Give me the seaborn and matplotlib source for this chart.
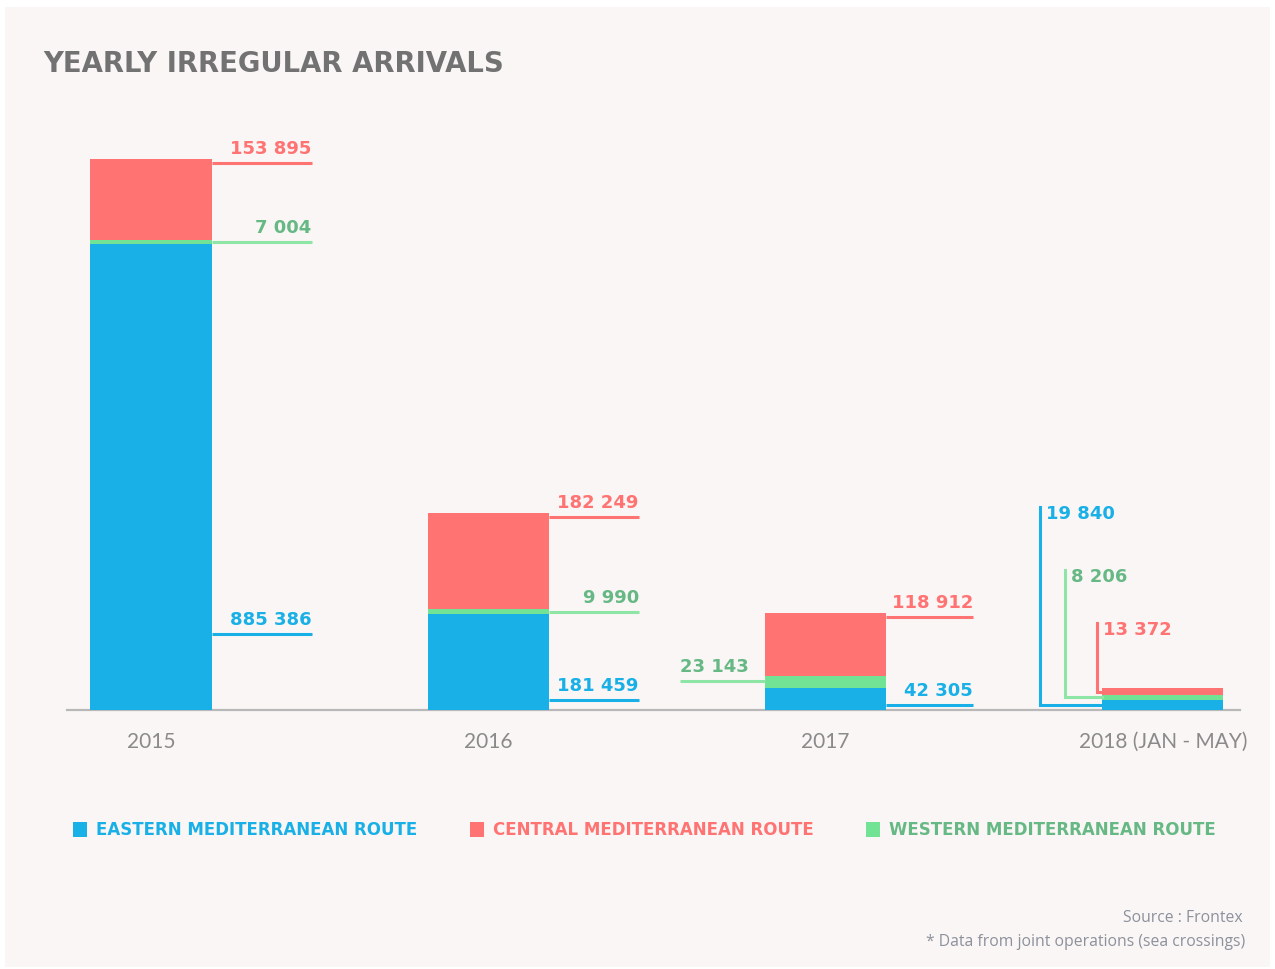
import matplotlib
matplotlib.use("Agg")
import matplotlib.pyplot as plt
import seaborn as sns
import pandas as pd
import numpy as np
from matplotlib.patches import Rectangle

# ---------------- data ----------------
years = ["2015", "2016", "2017", "2018"]
year_labels = ["2015", "2016", "2017", "2018 (JAN - MAY)"]
eastern = [885386, 181459, 42305, 19840]
western = [7004, 9990, 23143, 8206]
central = [153895, 182249, 118912, 13372]
routes = ["EASTERN MEDITERRANEAN ROUTE", "CENTRAL MEDITERRANEAN ROUTE", "WESTERN MEDITERRANEAN ROUTE"]

# ---------------- style ----------------
BLUE = "#18b0e6"
RED = "#ff7373"
GREEN = "#72e394"
GREEN_TXT = "#66b884"
GREEN_LINE = "#8de6a6"
BG = "#faf6f5"
NUMFONT = "DejaVu Sans"

W, H = 1275, 969
fig = plt.figure(figsize=(W / 100, H / 100), dpi=100)
fig.patch.set_facecolor("white")
fig.patches.append(Rectangle((5 / W, 1 - 967 / H), (1270 - 5) / W, (967 - 7) / H,
                             transform=fig.transFigure, facecolor=BG, edgecolor="none", zorder=-10))

# axes geometry (pixels)
x_left, x_right, y_base, y_top = 67, 1240, 710, 100
ax = fig.add_axes([x_left / W, 1 - y_base / H, (x_right - x_left) / W, (y_base - y_top) / H])
ax.set_facecolor("none")

df = pd.DataFrame({"year": years, "eastern": eastern, "western": western, "central": central})
df["ew"] = df["eastern"] + df["western"]
df["total"] = df["ew"] + df["central"]

BW = 0.359
sns.barplot(data=df, x="year", y="total", color=RED, width=BW, saturation=1, linewidth=0, ax=ax, zorder=2)
sns.barplot(data=df, x="year", y="ew", color=GREEN, width=BW, saturation=1, linewidth=0, ax=ax, zorder=3)
sns.barplot(data=df, x="year", y="eastern", color=BLUE, width=BW, saturation=1, linewidth=0, ax=ax, zorder=4)

SPACING = 337.3          # px between bar centres
UNITS_PER_PX = 1899.0    # value units per vertical pixel
x0c = 151
ax.set_xlim(-(x0c - x_left) / SPACING, (x_right - x0c) / SPACING)
ax.set_ylim(0, (y_base - y_top) * UNITS_PER_PX)

for s in ["top", "right", "left"]:
    ax.spines[s].set_visible(False)
ax.spines["bottom"].set_color("#b8b8b8")
ax.spines["bottom"].set_linewidth(1.6)
ax.set_yticks([])
ax.set_xticks(range(4))
ax.set_xticklabels(year_labels, fontsize=15, color="#8a8a8a", family="Lato")
ax.tick_params(axis="x", length=0, pad=15.5)
ax.set_xlabel("")
ax.set_ylabel("")

def px(v):  # pixel offset -> value units
    return v * UNITS_PER_PX

def xp(v):  # pixel offset -> x units
    return v / SPACING

def fmt(n):
    return f"{n:,}".replace(",", " ")

LW = 2.2
TXT_OFF = px(5)

def right_label(i, yv, ext, value, col, lcol):
    x1 = i + BW / 2
    x2 = x1 + ext
    ax.plot([x1, x2], [yv, yv], color=lcol, lw=LW, solid_capstyle="butt", zorder=5)
    ax.text(x2, yv + TXT_OFF, fmt(value), ha="right", va="bottom", color=col,
            fontsize=13, fontweight="bold", family=NUMFONT, zorder=6)

def left_label(i, yv, ext, value, col, lcol):
    x1 = i - BW / 2
    x2 = x1 - ext
    ax.plot([x2, x1], [yv, yv], color=lcol, lw=LW, solid_capstyle="butt", zorder=5)
    ax.text(x2, yv + TXT_OFF, fmt(value), ha="left", va="bottom", color=col,
            fontsize=13, fontweight="bold", family=NUMFONT, zorder=6)

exts = [xp(100), xp(90), xp(87)]
blue_offsets = [76, 10, 5]
for i in range(3):
    r = df.iloc[i]
    right_label(i, r["total"] - px(4), exts[i], r["central"], RED, RED)
    gy = r["eastern"] + r["western"] / 2
    if i < 2:
        right_label(i, gy, exts[i], r["western"], GREEN_TXT, GREEN_LINE)
    else:
        left_label(i, gy + px(1), xp(85), r["western"], GREEN_TXT, GREEN_LINE)
    right_label(i, px(blue_offsets[i]), exts[i], r["eastern"], BLUE, BLUE)

# 2018 elbow labels
r = df.iloc[3]
bl = 3 - BW / 2
elbows = [
    (r["eastern"], r["eastern"] / 2, xp(62), px(203), BLUE, BLUE),
    (r["western"], r["eastern"] + r["western"] / 2, xp(37), px(140), GREEN_TXT, GREEN_LINE),
    (r["central"], r["ew"] + r["central"] / 2, xp(5), px(87), RED, RED),
]
for value, yv, dx, ytopv, col, lcol in elbows:
    xv = bl - dx
    ax.plot([bl, xv, xv], [yv, yv, ytopv], color=lcol, lw=LW, solid_joinstyle="miter", zorder=5)
    ax.text(xv + xp(6), ytopv - px(7), fmt(value), ha="left", va="center", color=col,
            fontsize=13, fontweight="bold", family=NUMFONT, zorder=6)

# title
fig.text(43 / W, 1 - 72 / H, "YEARLY IRREGULAR ARRIVALS", ha="left", va="baseline",
         fontsize=19.8, fontweight="bold", color="#727272", family="DejaVu Sans")

# legend
leg = [(73, routes[0], BLUE, BLUE), (470, routes[1], RED, RED), (866, routes[2], GREEN, GREEN_TXT)]
for xpix, lab, sq, tc in leg:
    fig.patches.append(Rectangle((xpix / W, 1 - 837 / H), 14 / W, 15 / H, transform=fig.transFigure,
                                 facecolor=sq, edgecolor="none"))
    fig.text((xpix + 23) / W, 1 - 830 / H, lab, ha="left", va="center", fontsize=12,
             fontweight="bold", color=tc, family=NUMFONT)

# source
fig.text(1243 / W, 1 - 918 / H, "Source : Frontex", ha="right", va="center",
         fontsize=11.3, color="#8c919c", family="Open Sans")
fig.text(1245 / W, 1 - 942 / H, "* Data from joint operations (sea crossings)", ha="right", va="center",
         fontsize=11.3, color="#8c919c", family="Open Sans")

fig.savefig("out.png", dpi=100, facecolor="white")
